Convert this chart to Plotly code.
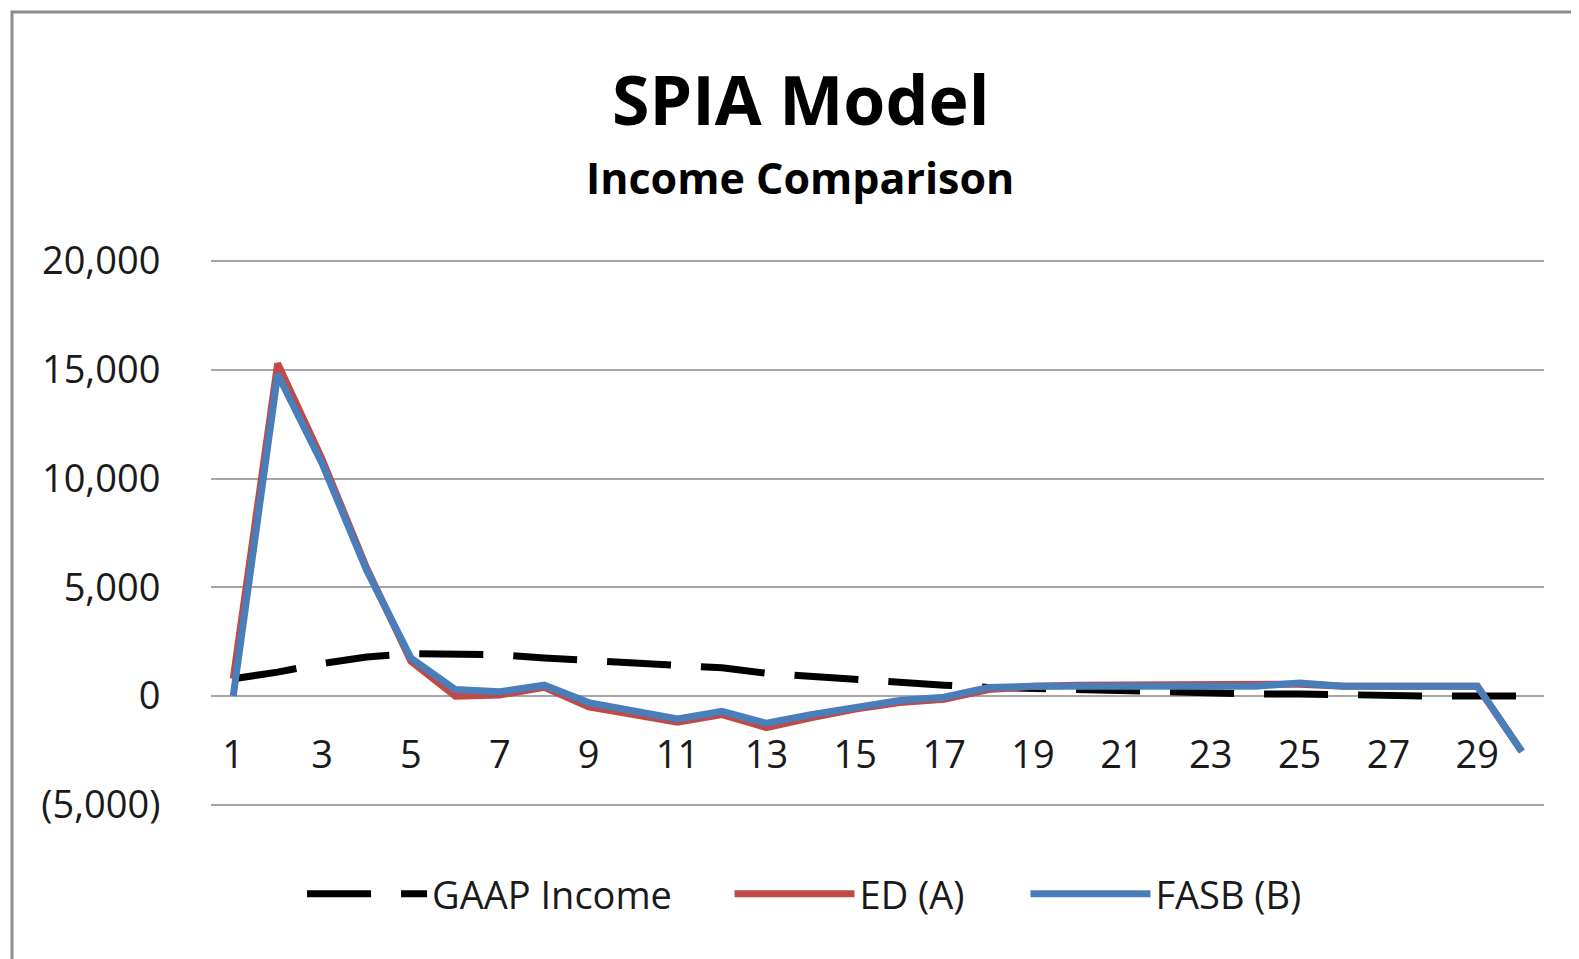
import plotly.graph_objects as go

periods = list(range(1, 31))
gaap_income = [800, 1100, 1500, 1800, 1950, 1950, 1900, 1750, 1650, 1550,
               1400, 1300, 1050, 900, 800, 650, 500, 400, 350, 300,
               200, 150, 100, 100, 100, 50, 0, 0, 0, 0]
ed_a = [800, 15300, 10900, 5900, 1600, 0, 50, 400, -500, -850,
        -1200, -850, -1450, -1000, -600, -300, -150, 300, 450, 500,
        500, 500, 500, 500, 550, 450, 450, 450, 450, -2550]
fasb_b = [0, 14800, 10700, 5800, 1750, 300, 200, 500, -300, -700,
          -1050, -700, -1250, -850, -500, -200, -50, 400, 450, 450,
          450, 450, 450, 450, 600, 450, 450, 450, 450, -2550]

y_tick_vals = [-5000, 0, 5000, 10000, 15000, 20000]
y_tick_text = ["(5,000)", "0", "5,000", "10,000", "15,000", "20,000"]
x_tick_vals = list(range(1, 31, 2))
x_tick_text = [str(v) for v in x_tick_vals]

FONT = "Open Sans"
TXT = "#1a1a1a"

fig = go.Figure()
fig.add_trace(go.Scatter(x=periods, y=gaap_income, mode="lines", name="GAAP Income",
                         legend="legend",
                         line=dict(color="#000000", width=7, dash="64px,30px")))
fig.add_trace(go.Scatter(x=periods, y=ed_a, mode="lines", name="ED (A)",
                         legend="legend2",
                         line=dict(color="#BE4B48", width=7)))
fig.add_trace(go.Scatter(x=periods, y=fasb_b, mode="lines", name="FASB (B)",
                         legend="legend3",
                         line=dict(color="#4A7EBB", width=7)))

# plot area: y from -5100 to 20100 so the end gridlines are drawn
Y0, Y1 = -5100, 20100
ppu = 544 / 25000.0
plot_h = (Y1 - Y0) * ppu
top_px = 253 - (Y1 - 20000) * ppu
t_m = round(top_px)
b_m = round(959 - t_m - plot_h)

def py(px_fig):
    # figure pixel (y) -> paper fraction
    top = t_m
    h = 959 - t_m - b_m
    return (top + h - px_fig) / h

leg_common = dict(orientation="h", xanchor="left", y=py(886), yanchor="middle",
                  font=dict(family=FONT, size=38, color=TXT), itemwidth=120,
                  bgcolor="rgba(0,0,0,0)")

zero_pos = (0 - Y0) / (Y1 - Y0)

fig.update_layout(
    width=1579, height=959,
    margin=dict(l=203, r=43, t=t_m, b=b_m),
    paper_bgcolor="white", plot_bgcolor="white",
    font=dict(family=FONT, size=38, color=TXT),
    showlegend=True,
    legend=dict(x=0.0683, **leg_common),
    legend2=dict(x=0.389, **leg_common),
    legend3=dict(x=0.611, **leg_common),
    xaxis=dict(range=[0.5, 30.5], tickmode="array", tickvals=x_tick_vals, ticktext=x_tick_text,
               showgrid=False, zeroline=False, showline=False,
               anchor="free", position=zero_pos, ticks="outside", ticklen=25,
               tickcolor="rgba(0,0,0,0)", tickfont=dict(family=FONT, size=38, color=TXT)),
    yaxis=dict(range=[Y0, Y1], tickmode="array", tickvals=y_tick_vals, ticktext=y_tick_text,
               showgrid=True, gridcolor="#A6A6A6", gridwidth=1.5, zeroline=False, showline=False,
               ticks="outside", ticklen=42, tickcolor="rgba(0,0,0,0)",
               tickfont=dict(family=FONT, size=38, color=TXT)),
    annotations=[
        dict(text="<b>SPIA Model</b>", x=0.442, y=py(90), xref="paper", yref="paper",
             xanchor="center", yanchor="middle", showarrow=False,
             font=dict(family=FONT, size=68, color="#000000")),
        dict(text="<b>Income Comparison</b>", x=0.442, y=py(169), xref="paper", yref="paper",
             xanchor="center", yanchor="middle", showarrow=False,
             font=dict(family=FONT, size=43, color="#000000")),
    ],
    shapes=[dict(type="rect", xref="paper", yref="paper", x0=-0.1493, x1=1.04,
                 y0=py(1000), y1=py(4),
                 line=dict(color="#8C8C8C", width=3), layer="below")],
)

fig.write_html("out.html")
